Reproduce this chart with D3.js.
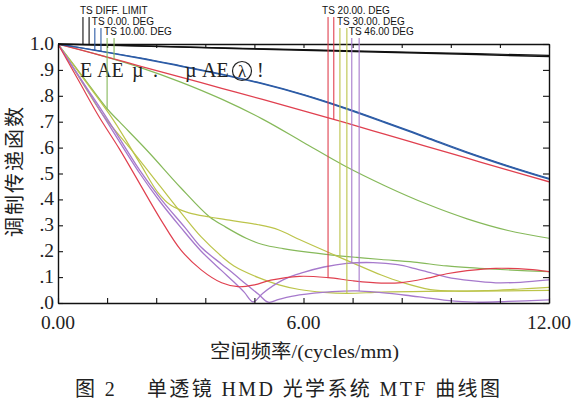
<!DOCTYPE html>
<html><head><meta charset="utf-8">
<script src="https://cdn.jsdelivr.net/npm/d3@7"></script>
<style>body{margin:0;background:#fff} svg{display:block}</style>
</head><body><svg id="c" width="572" height="400"></svg>
<script>
// ---- data ----
const xTicks = [0,1.2,2.4,3.6,4.8,6,7.2,8.4,9.6,10.8,12];
const xTickLabels = [[0,"0.00"],[6,"6.00"],[12,"12.00"]];
const yTicks = [0,0.1,0.2,0.3,0.4,0.5,0.6,0.7,0.8,0.9,1.0];
const yTickLabels = [".0",".1",".2",".3",".4",".5",".6",".7",".8",".9","1.0"];

const diffT = [[0,1],[3,0.988],[6,0.976],[9,0.964],[12,0.952]];
const diffS = [[0,1],[3,0.989],[6,0.978],[9,0.967],[12,0.956]];
const deg0T = [[0,1],[1,0.973],[2,0.945],[3,0.914],[4,0.882],[5,0.846],[6,0.803],[7,0.752],[8,0.696],[9,0.638],[10,0.58],[11,0.527],[12,0.478]];
const deg0S = [[0,1],[1,0.974],[2,0.947],[3,0.916],[4,0.884],[5,0.848],[6,0.805],[7,0.755],[8,0.699],[9,0.641],[10,0.583],[11,0.53],[12,0.481]];
const deg10T = [[0,1],[0.6,0.875],[1.2,0.75],[1.5,0.70],[2.2,0.585],[3,0.445],[3.7,0.333],[4.1,0.293],[4.6,0.25],[5,0.226],[5.5,0.21],[6,0.198],[6.7,0.185],[7.3,0.176],[7.9,0.168],[8.7,0.158],[9.5,0.143],[10.3,0.134],[11.1,0.127],[12,0.121]];
const deg10S = [[0,1],[1,0.958],[2,0.91],[3,0.853],[4,0.787],[5,0.71],[6,0.62],[7,0.53],[8,0.452],[9,0.383],[10,0.325],[11,0.28],[12,0.25]];
const deg20T = [[0,1],[0.5,0.86],[1,0.72],[1.5,0.595],[2,0.46],[2.5,0.325],[3,0.205],[3.5,0.128],[4,0.078],[4.4,0.063],[4.8,0.07],[5.2,0.088],[5.9,0.103],[6.6,0.098],[7.2,0.086],[7.9,0.077],[8.4,0.079],[9,0.095],[9.5,0.113],[10,0.125],[10.7,0.134],[11.5,0.13],[12,0.121]];
const deg20S = [[0,1],[1,0.958],[2,0.915],[3,0.872],[4,0.829],[5,0.786],[6,0.742],[7,0.697],[8,0.651],[9,0.605],[10,0.559],[11,0.513],[12,0.468]];
const deg30T = [[0,1],[0.7,0.85],[1.35,0.707],[2,0.54],[2.45,0.425],[2.75,0.378],[3.2,0.348],[3.7,0.332],[4.1,0.322],[4.9,0.302],[5.4,0.282],[5.9,0.245],[6.6,0.196],[7.2,0.155],[7.9,0.108],[8.4,0.08],[9.1,0.052],[9.8,0.046],[10.5,0.048],[11.3,0.054],[12,0.06]];
const deg30S = [[0,1],[0.5,0.875],[1.1,0.725],[1.8,0.59],[2.5,0.45],[3,0.35],[3.5,0.255],[4,0.18],[4.3,0.143],[4.9,0.098],[5.4,0.07],[5.9,0.052],[6.5,0.041],[7.06,0.037],[7.9,0.042],[9,0.045],[10,0.046],[11,0.047],[12,0.049]];
const deg46T = [[0,1],[0.6,0.852],[1.15,0.712],[2,0.5],[2.5,0.39],[3,0.292],[3.5,0.2],[4,0.125],[4.3,0.081],[4.55,0.042],[4.77,0.004],[5.0,0.037],[5.5,0.089],[6,0.118],[6.5,0.139],[7.06,0.153],[7.7,0.156],[8.3,0.148],[8.7,0.134],[9.1,0.117],[9.5,0.1],[10.1,0.086],[10.7,0.078],[11.3,0.08],[12,0.089]];
const deg46S = [[0,1],[0.6,0.855],[1.2,0.712],[2,0.512],[2.5,0.404],[3.1,0.292],[3.5,0.215],[4,0.15],[4.3,0.112],[4.6,0.072],[4.9,0.034],[5.14,0.003],[5.4,0.014],[5.9,0.031],[6.7,0.044],[7.3,0.047],[7.9,0.04],[8.5,0.03],[9,0.02],[9.5,0.01],[10.2,0.003],[11,0.006],[12,0.012]];

const markerLabels = ["TS DIFF. LIMIT","TS 0.00. DEG","TS 10.00. DEG","TS 20.00. DEG","TS 30.00. DEG","TS 46.00 DEG"];
const markerFreqT = [0.61,0.90,1.20,6.60,6.89,7.18];
const markerFreqS = [0.76,1.05,1.37,6.74,7.06,7.36];
const markerRow = [0,1,2,0,1,2];

const garbled = ["E","AE","µ",".","µ","AE","!"];
const circled = "λ";

// ---- drawing ----
const svg = d3.select("#c");
const x = d3.scaleLinear().domain([0,12]).range([58,549]);
const y = d3.scaleLinear().domain([0,1]).range([303,44]);
const serif = "'Liberation Serif','DejaVu Serif',serif";
const cjk = "'Liberation Serif','Noto Sans CJK SC',serif";

svg.append("defs").append("clipPath").attr("id","plot").append("rect")
  .attr("x",x(0)).attr("y",y(1)-2).attr("width",x(12)-x(0)).attr("height",y(0)-y(1)+2);

const colors = {diff:"#111111", deg0:"#2d5ca6", deg10:"#86b95a", deg20:"#e0404f", deg30:"#bcc44a", deg46:"#a679cc"};
const seriesList = [
  {d:deg10S,c:colors.deg10,w:1.2},{d:deg10T,c:colors.deg10,w:1.2},
  {d:deg30T,c:colors.deg30,w:1.2},{d:deg30S,c:colors.deg30,w:1.2},
  {d:deg46T,c:colors.deg46,w:1.3},{d:deg46S,c:colors.deg46,w:1.3},
  {d:deg20T,c:colors.deg20,w:1.2},{d:deg20S,c:colors.deg20,w:1.3},
  {d:deg0T,c:colors.deg0,w:1.4},{d:deg0S,c:colors.deg0,w:1.2},
  {d:diffT,c:colors.diff,w:1.5},{d:diffS,c:colors.diff,w:1.2}
];
const line = d3.line().x(d=>x(d[0])).y(d=>y(d[1])).curve(d3.curveCatmullRom.alpha(0.5));
const paths = new Map();
const curves = svg.append("g").attr("clip-path","url(#plot)");
seriesList.forEach(s=>{
  const p = curves.append("path").attr("d",line(s.d)).attr("fill","none")
    .attr("stroke",s.c).attr("stroke-width",s.w);
  paths.set(s.d,p.node());
});

// frame + axes
const g = svg.append("g");
g.append("g").attr("transform","translate(0,303)")
  .call(d3.axisBottom(x).tickValues(xTicks).tickSize(-5).tickSizeOuter(0).tickFormat(""));
g.append("g").attr("transform","translate(0,44)")
  .call(d3.axisTop(x).tickValues(xTicks).tickSize(-4).tickSizeOuter(0).tickFormat(""));
g.append("g").attr("transform","translate(58,0)")
  .call(d3.axisLeft(y).tickValues(yTicks).tickSize(-5).tickSizeOuter(0).tickFormat(""));
g.append("g").attr("transform","translate(549,0)")
  .call(d3.axisRight(y).tickValues(yTicks).tickSize(-6).tickSizeOuter(0).tickFormat(""));
g.selectAll("path.domain").attr("stroke","#111").attr("stroke-width",1.4);
g.selectAll(".tick line").attr("stroke","#111").attr("stroke-width",1.1);

// tick labels
svg.selectAll("text.xl").data(xTickLabels).enter().append("text")
  .attr("x",d=>x(d[0])).attr("y",329).attr("text-anchor","middle")
  .attr("font-family",serif).attr("font-size",19.5).attr("fill","#222").text(d=>d[1]);
svg.selectAll("text.yl").data(yTicks).enter().append("text")
  .attr("x",54).attr("y",d=>y(d)+6).attr("text-anchor","end")
  .attr("font-family",serif).attr("font-size",19.5).attr("fill","#222").text((d,i)=>yTickLabels[i]);

// axis titles
svg.append("text").attr("x",210).attr("y",358).attr("textLength",189).attr("lengthAdjust","spacingAndGlyphs")
  .attr("font-family",cjk).attr("font-size",19).attr("fill","#222").text("空间频率/(cycles/mm)");
svg.append("text").attr("transform","translate(13,171) rotate(-90)").attr("text-anchor","middle")
  .attr("dominant-baseline","central").attr("font-family","'Noto Sans CJK SC',sans-serif")
  .attr("font-size",20).attr("letter-spacing",2).attr("fill","#222").text("调制传递函数");
svg.append("text").attr("x",75).attr("y",396).attr("textLength",425).attr("lengthAdjust","spacing")
  .attr("font-family",cjk).attr("font-size",20).attr("fill","#222")
  .text("图 2　 单透镜 HMD 光学系统 MTF 曲线图");

// garbled in-plot text
const gx = [80,97,132,153,185,202,257];
garbled.forEach((t,i)=>{
  svg.append("text").attr("x",gx[i]).attr("y",77).attr("font-family",serif)
    .attr("font-size",20).attr("fill","#222").text(t);
});
svg.append("circle").attr("cx",242).attr("cy",71).attr("r",9.5).attr("fill","none").attr("stroke","#222").attr("stroke-width",1.2);
svg.append("text").attr("x",242).attr("y",77).attr("text-anchor","middle").attr("font-family",serif)
  .attr("font-size",17).attr("fill","#222").text(circled);

// markers
const markerSeries = [[diffT,diffS],[deg0T,deg0S],[deg10T,deg10S],[deg20T,deg20S],[deg30T,deg30S],[deg46T,deg46S]];
const markerColor = [colors.diff,colors.deg0,colors.deg10,colors.deg20,colors.deg30,colors.deg46];
const rowTop = [17,28,38], rowBase = [14,24.5,34.5];
function yOnPath(node, px){
  let lo=0, hi=node.getTotalLength();
  for(let k=0;k<40;k++){const m=(lo+hi)/2; if(node.getPointAtLength(m).x<px) lo=m; else hi=m;}
  return node.getPointAtLength((lo+hi)/2).y;
}
markerLabels.forEach((lab,i)=>{
  const r = markerRow[i];
  [markerFreqT[i],markerFreqS[i]].forEach((f,j)=>{
    const px = x(f);
    const py = yOnPath(paths.get(markerSeries[i][j]),px);
    svg.append("line").attr("x1",px).attr("x2",px).attr("y1",rowTop[r]).attr("y2",py)
      .attr("stroke",markerColor[i]).attr("stroke-width",1.1);
  });
  const off = i===3 ? 6 : 3;
  svg.append("text").attr("x",x(markerFreqT[i])-off).attr("y",rowBase[r])
    .attr("font-family","'Liberation Sans',Arial,sans-serif").attr("font-size",10)
    .attr("fill","#111").text(lab);
});
</script></body></html>
